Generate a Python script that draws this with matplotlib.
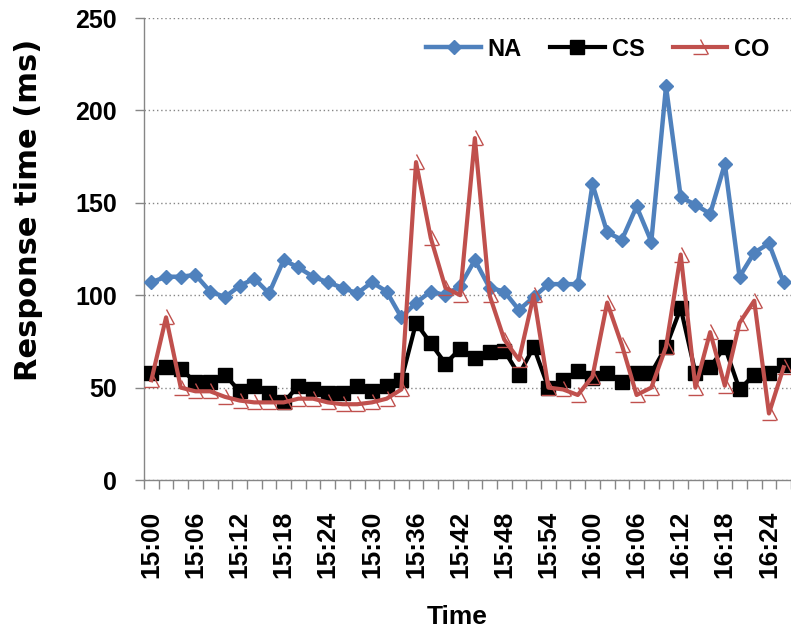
# response_time_plot.py
# Response time of NA / CS / CO over time (2-minute samples)

import numpy as np
import matplotlib.pyplot as plt
from matplotlib.path import Path

# === 1. Data ===
times = ["15:%02d" % m for m in range(0, 60, 2)] + ["16:%02d" % m for m in range(0, 28, 2)]

na = [107, 110, 110, 111, 102, 99, 105, 109, 101, 119, 115, 110, 107, 104, 101,
      107, 102, 88, 96, 102, 100, 105, 119, 104, 102, 92, 99, 106, 106, 106,
      160, 134, 130, 148, 129, 213, 153, 149, 144, 171, 110, 123, 128, 107]
cs = [58, 61, 60, 53, 53, 57, 48, 51, 47, 42, 51, 49, 47, 47, 51,
      48, 51, 54, 85, 74, 63, 71, 66, 69, 70, 57, 72, 50, 54, 59,
      55, 58, 53, 58, 58, 72, 93, 58, 61, 72, 49, 57, 58, 62]
co = [54, 88, 50, 48, 48, 45, 43, 42, 42, 42, 44, 44, 42, 41, 41,
      42, 44, 49, 172, 131, 104, 100, 185, 100, 76, 65, 100, 50, 49, 46,
      56, 96, 73, 46, 50, 72, 122, 50, 80, 51, 85, 97, 36, 61]

x = np.arange(len(times))

# custom marker for CO (horizontal dash + slanted stroke)
co_marker = Path([(0, 8), (8, -7), (-7, -7), (7, -7)],
                 [Path.MOVETO, Path.LINETO, Path.MOVETO, Path.LINETO])

# === 2. Plot ===
fig = plt.figure(figsize=(7.91, 6.34), dpi=100)
ax = fig.add_axes([144 / 791, 154 / 634, 647 / 791, 462 / 634])

ax.plot(x, na, color="#4F81BD", linewidth=3.2, marker="D", markersize=7.5,
        markeredgewidth=1, label="NA", zorder=3)
ax.plot(x, cs, color="black", linewidth=3, marker="s", markersize=9.5,
        markeredgewidth=1, label="CS", zorder=4)
ax.plot(x, co, color="#C0504D", linewidth=3, marker=co_marker, markersize=11.5,
        markeredgewidth=1, markerfacecolor="none", label="CO", zorder=5)

# === 3. Axes styling ===
ax.set_xlim(-0.5, 43.4)
ax.set_ylim(0, 250)
ax.set_yticks(range(0, 251, 50))
ax.set_xticks(x[::3])
ax.set_xticklabels(times[::3], rotation=90, fontsize=19, fontweight="bold",
                   family="Liberation Sans")
ax.set_xticks(np.arange(-0.5, len(times), 1), minor=True)
ax.tick_params(axis="x", which="major", length=0, pad=22)
ax.tick_params(axis="x", which="minor", length=6.5, color="#868686", width=1)
ax.tick_params(axis="y", length=6.5, color="#868686", width=1, pad=13)
for lbl in ax.get_yticklabels():
    lbl.set_fontsize(18)
    lbl.set_fontweight("bold")
    lbl.set_family("Liberation Sans")

ax.grid(axis="y", color="#868686", linestyle=(0, (1, 2)), linewidth=1)
ax.set_axisbelow(True)
for side in ["top", "right"]:
    ax.spines[side].set_visible(False)
for side in ["left", "bottom"]:
    ax.spines[side].set_color("#868686")
    ax.spines[side].set_linewidth(1)

ax.set_xlabel("Time", fontsize=19, fontweight="bold", family="Liberation Sans")
ax.set_ylabel("Response time (ms)", fontsize=22, fontweight="bold", family="DejaVu Sans")
ax.xaxis.set_label_coords(0.484, -0.27)
ax.yaxis.set_label_coords(-0.156, 0.584)

leg = ax.legend(loc="center", bbox_to_anchor=(598 / 791, 1 - 49 / 634),
                bbox_transform=fig.transFigure, ncol=3, frameon=False,
                prop={"family": "Liberation Sans", "weight": "bold", "size": 17},
                handlelength=2.3, handletextpad=0.3, columnspacing=1.2)

fig.savefig("out.png", dpi=100)
plt.close(fig)
